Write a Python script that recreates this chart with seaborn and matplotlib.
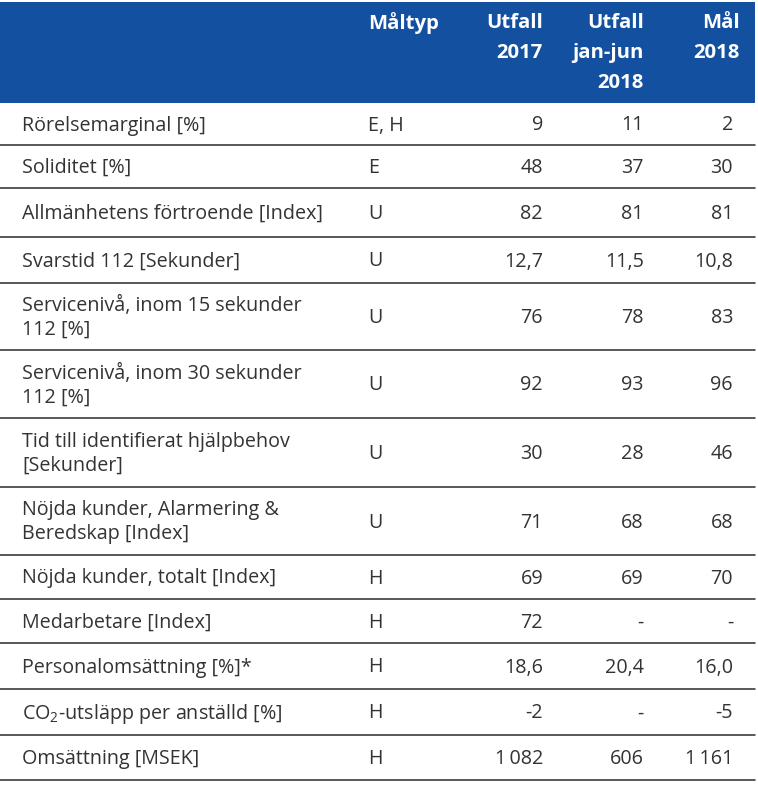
import matplotlib.pyplot as plt
import seaborn as sns

# table content
labels = [
    ["Rörelsemarginal [%]"],
    ["Soliditet [%]"],
    ["Allmänhetens förtroende [Index]"],
    ["Svarstid 112 [Sekunder]"],
    ["Servicenivå, inom 15 sekunder", "112 [%]"],
    ["Servicenivå, inom 30 sekunder", "112 [%]"],
    ["Tid till identifierat hjälpbehov", "[Sekunder]"],
    ["Nöjda kunder, Alarmering &", "Beredskap [Index]"],
    ["Nöjda kunder, totalt [Index]"],
    ["Medarbetare [Index]"],
    ["Personalomsättning [%]*"],
    ["CO$_2$-utsläpp per anställd [%]"],
    ["Omsättning [MSEK]"],
]
maltyp = ["E, H", "E", "U", "U", "U", "U", "U", "U", "H", "H", "H", "H", "H"]
utfall_2017 = ["9", "48", "82", "12,7", "76", "92", "30", "71", "69", "72", "18,6", "-2", "1\u2009082"]
utfall_jan_jun_2018 = ["11", "37", "81", "11,5", "78", "93", "28", "68", "69", "-", "20,4", "-", "606"]
mal_2018 = ["2", "30", "81", "10,8", "83", "96", "46", "68", "70", "-", "16,0", "-5", "1\u2009161"]

headers = [["Måltyp"], ["Utfall", "2017"], ["Utfall", "jan-jun", "2018"], ["Mål", "2018"]]

# layout (pixels)
W, H = 758, 790
blue = "#1351a0"
txt = "#333333"
head_top, head_bot = 2, 103
row_heights = [42, 43, 49, 46, 67, 68, 69, 68, 44, 44, 46, 46, 45]
x_label = 22
x_typ = 368
x_cols = [543, 644, 733]
x_head = [368, 543, 644, 740]
fs = 14.2
fs_head = 14.6

sns.set_theme(style="white")
plt.rcParams["font.family"] = ["Open Sans", "DejaVu Sans"]
plt.rcParams["mathtext.fontset"] = "custom"
plt.rcParams["mathtext.rm"] = "Open Sans"
plt.rcParams["mathtext.default"] = "regular"

fig = plt.figure(figsize=(W / 100, H / 100), dpi=100)
ax = fig.add_axes([0, 0, 1, 1])
ax.set_xlim(0, W)
ax.set_ylim(H, 0)
ax.axis("off")

right = 755 / W
ax.axhspan(head_top, head_bot, xmin=0, xmax=right, color=blue, lw=0)

for i, lines in enumerate(headers):
    ha = "left" if i == 0 else "right"
    for j, s in enumerate(lines):
        ax.text(x_head[i], 23 + j * 30, s, ha=ha, va="center", color="white",
                fontsize=fs_head, fontweight="bold")

y = head_bot
for k, lab in enumerate(labels):
    h = row_heights[k]
    yc = y + h / 2 + 1.5
    for j, s in enumerate(lab):
        ax.text(x_label, yc + (j - (len(lab) - 1) / 2) * 24, s, ha="left", va="center",
                color=txt, fontsize=fs)
    ax.text(x_typ, yc, maltyp[k], ha="left", va="center", color=txt, fontsize=fs)
    for x, col in zip(x_cols, [utfall_2017, utfall_jan_jun_2018, mal_2018]):
        ax.text(x, yc, col[k], ha="right", va="center", color=txt, fontsize=fs)
    y += h
    ax.axhline(y, xmin=0, xmax=right, color="#2b2b2b", lw=1.1)

fig.savefig("out.png", dpi=100, facecolor="white")
